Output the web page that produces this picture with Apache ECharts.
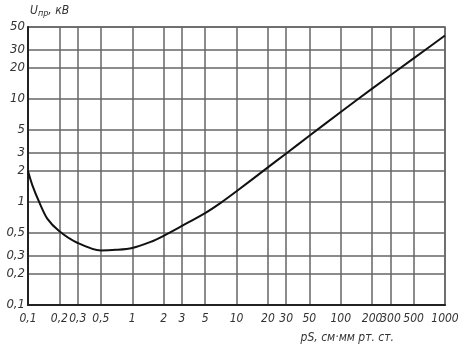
<!DOCTYPE html>
<html>
<head>
<meta charset="utf-8">
<script src="https://cdn.jsdelivr.net/npm/echarts@6/dist/echarts.min.js"></script>
<style>
  html, body { margin: 0; padding: 0; background: #fff; }
  #chart { width: 476px; height: 356px; }
</style>
</head>
<body>
<div id="chart"></div>
<script>
// pS, см·мм рт. ст. -> Uпр, кВ
const pS = [0.1, 0.11, 0.128, 0.153, 0.2, 0.3, 0.5, 0.7, 1, 1.5, 2, 3, 5, 7, 10, 20, 30, 50, 100, 200, 500, 1000]
const uBreak = [2.0, 1.46, 1.0, 0.69, 0.52, 0.40, 0.338, 0.343, 0.358, 0.41, 0.47, 0.586, 0.78, 0.975, 1.27, 2.17, 2.96, 4.39, 7.48, 12.6, 24.8, 41.4]

const xTicks = [0.1, 0.2, 0.3, 0.5, 1, 2, 3, 5, 10, 20, 30, 50, 100, 200, 300, 500, 1000]
const yTicks = [0.1, 0.2, 0.3, 0.5, 1, 2, 3, 5, 10, 20, 30, 50]

const fontFamily = '"DejaVu Sans Condensed", "Liberation Sans"'
const fmt = v => String(+v.toPrecision(3)).replace('.', ',')

const chart = echarts.init(document.getElementById('chart'))

const labelStyle = {
  color: '#333',
  fontFamily: fontFamily,
  fontStyle: 'italic',
  fontSize: 12
}

chart.setOption({
  animation: false,
  backgroundColor: '#fff',
  grid: { left: 28, right: 31, top: 27, bottom: 51, show: true, borderColor: '#666', borderWidth: 1.5 },
  xAxis: {
    type: 'log',
    logBase: 10,
    min: 0.1,
    max: 1000,
    axisLine: { show: true, lineStyle: { color: '#222', width: 2 } },
    axisTick: { show: false, customValues: xTicks },
    axisLabel: Object.assign({ customValues: xTicks, margin: 8, formatter: fmt, hideOverlap: false }, labelStyle),
    splitLine: { show: true, lineStyle: { color: '#666', width: 1.5 } },
    minorSplitLine: { show: false }
  },
  yAxis: {
    type: 'log',
    logBase: 10,
    min: 0.1,
    max: 50,
    axisLine: { show: true, lineStyle: { color: '#222', width: 2 } },
    axisTick: { show: false, customValues: yTicks },
    axisLabel: Object.assign({ customValues: yTicks, margin: 3, formatter: fmt }, labelStyle, { fontSize: 13 }),
    splitLine: { show: true, lineStyle: { color: '#666', width: 1.5 } }
  },
  graphic: [
    {
      type: 'text',
      left: 30,
      top: 5,
      style: {
        text: '{a|U}{b|пр}{a|, кВ}',
        rich: {
          a: { fontFamily: fontFamily, fontStyle: 'italic', fontSize: 12, fill: '#333' },
          b: { fontFamily: fontFamily, fontStyle: 'italic', fontSize: 9, fill: '#333', verticalAlign: 'bottom', padding: [6, 0, 0, 0] }
        }
      }
    },
    {
      type: 'text',
      right: 82,
      top: 332,
      style: {
        text: 'pS, см·мм рт. ст.',
        fontFamily: fontFamily,
        fontStyle: 'italic',
        fontSize: 12,
        fill: '#333'
      }
    }
  ],
  series: [
    {
      type: 'line',
      data: pS.map((x, i) => [x, uBreak[i]]),
      smooth: 0.3,
      showSymbol: false,
      lineStyle: { color: '#111', width: 2 }
    }
  ]
})
</script>
</body>
</html>
